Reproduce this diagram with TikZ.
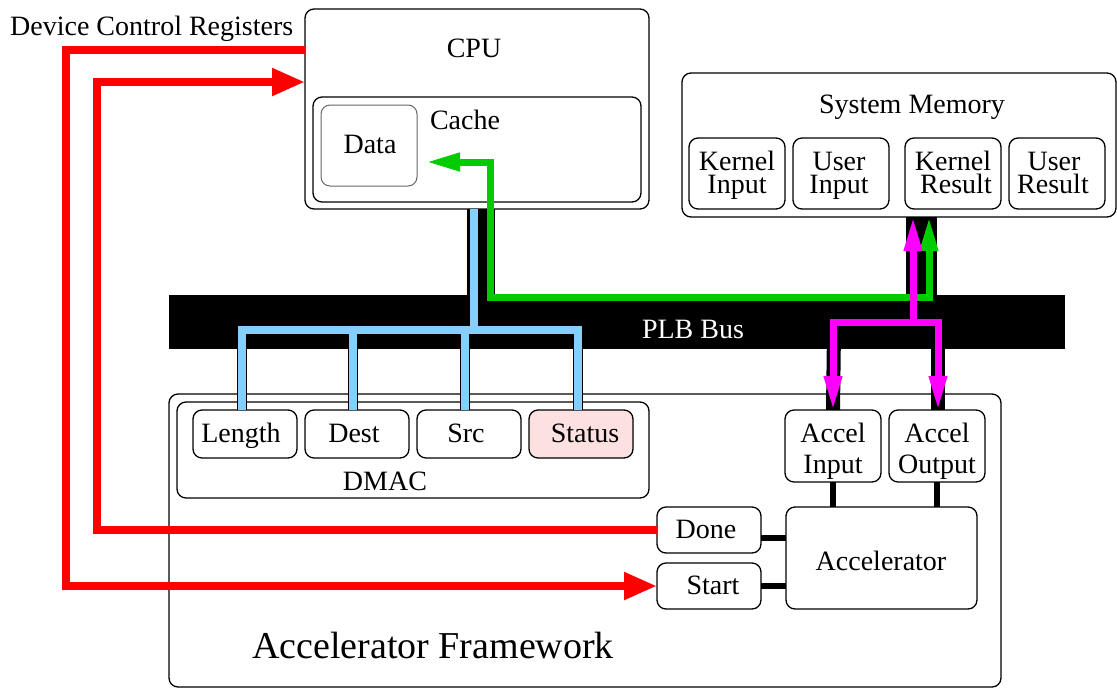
\documentclass[tikz,border=0pt]{standalone}
\usepackage{fontspec}
\setmainfont{Liberation Serif}
\usetikzlibrary{arrows.meta}
\definecolor{busblue}{RGB}{135,206,250}
\definecolor{busgreen}{RGB}{0,204,0}
\definecolor{busmag}{RGB}{255,0,255}
\definecolor{sigred}{RGB}{255,0,0}
\definecolor{statpink}{RGB}{253,225,225}
\tikzset{
  RedHead/.tip={Triangle[length=33pt,width=26pt]},
  BusHead/.tip={Triangle[length=34pt,width=17pt]},
}
\begin{document}
\begin{tikzpicture}[x=1pt,y=-1pt,
  box/.style={draw, line width=1.3pt, rounded corners=9pt, inner sep=0pt, outer sep=0pt, fill=white},
  lbl/.style={inner sep=0pt, anchor=base, font=\fontsize{28}{30}\selectfont},
  biglbl/.style={inner sep=0pt, anchor=base, font=\fontsize{38}{40}\selectfont},
  redline/.style={draw=sigred, line width=8pt},
  blueline/.style={draw=busblue, line width=8pt},
  greenline/.style={draw=busgreen, line width=7pt},
  magline/.style={draw=busmag, line width=7pt},
  underlay/.style={draw=black, line width=10pt},
  wideunder/.style={draw=black, line width=14pt},
  wire/.style={draw=black, line width=6pt},
]
\useasboundingbox (0,0) rectangle (1117,689);

% ---------- CPU ----------
\node[box, minimum width=344pt, minimum height=200pt] (cpu) at (477,109) {};
\node[box, minimum width=328pt, minimum height=105pt] (cache) at (477,149.5) {};
\node[box, draw=black!60, line width=1pt, minimum width=96pt, minimum height=81pt] (data) at (369,145.5) {};
\node[lbl] (cpulbl) at (474,57) {CPU};
\node[lbl] (cachelbl) at (465,129) {Cache};
\node[lbl] (datalbl) at (370,153) {Data};

% ---------- System memory ----------
\node[box, minimum width=434pt, minimum height=144pt] (sysmem) at (899,145) {};
\node[lbl] (sysmemlbl) at (912,113) {System Memory};
\node[box, minimum width=96pt, minimum height=71pt] (kin) at (737,173.5) {};
\node[box, minimum width=96pt, minimum height=71pt] (uin) at (841,173.5) {};
\node[box, minimum width=96pt, minimum height=71pt] (kres) at (953,173.5) {};
\node[box, minimum width=96pt, minimum height=71pt] (ures) at (1057,173.5) {};
\node[lbl] (kinA) at (737,170) {Kernel};
\node[lbl] (kinB) at (737,193) {Input};
\node[lbl] (uinA) at (839,170) {User};
\node[lbl] (uinB) at (839,193) {Input};
\node[lbl] (kresA) at (953,170) {Kernel};
\node[lbl] (kresB) at (956,193) {Result};
\node[lbl] (uresA) at (1054,170) {User};
\node[lbl] (uresB) at (1053,193) {Result};

% ---------- PLB bus ----------
\node[fill=black, inner sep=0pt, outer sep=0pt, minimum width=896pt, minimum height=54pt] (bus) at (617,322) {};
\node[lbl, text=white] (buslbl) at (693,338) {PLB Bus};

% ---------- Accelerator framework ----------
\node[box, minimum width=832pt, minimum height=293pt] (frame) at (585,540.5) {};
\node[biglbl] (framelbl) at (433,658) {Accelerator Framework};
\node[box, minimum width=472pt, minimum height=96pt] (dmac) at (413,450) {};
\node[lbl] (dmaclbl) at (385,490) {DMAC};
\node[box, minimum width=104pt, minimum height=48pt] (len) at (245,434) {};
\node[box, minimum width=104pt, minimum height=48pt] (dest) at (357,434) {};
\node[box, minimum width=104pt, minimum height=48pt] (src) at (469,434) {};
\node[box, fill=statpink, minimum width=104pt, minimum height=48pt] (status) at (581,434) {};
\node[lbl] (lenlbl) at (241,442) {Length};
\node[lbl] (destlbl) at (354,442) {Dest};
\node[lbl] (srclbl) at (466,442) {Src};
\node[lbl] (statuslbl) at (585,442) {Status};

\node[box, minimum width=96pt, minimum height=72pt] (ain) at (833,446) {};
\node[box, minimum width=96pt, minimum height=72pt] (aout) at (937,446) {};
\node[lbl] (ainA) at (833,442) {Accel};
\node[lbl] (ainB) at (833,473) {Input};
\node[lbl] (aoutA) at (937,442) {Accel};
\node[lbl] (aoutB) at (937,473) {Output};

\node[box, minimum width=191pt, minimum height=102pt] (accel) at (881.5,558) {};
\node[lbl] (accellbl) at (881,570) {Accelerator};
\node[box, minimum width=104pt, minimum height=46pt] (done) at (709,530) {};
\node[box, minimum width=104pt, minimum height=46pt] (start) at (709,586) {};
\node[lbl] (donelbl) at (706,538) {Done};
\node[lbl] (startlbl) at (713,594) {Start};

% accelerator wiring
\draw[wire] (ain.south) -- (ain.south |- accel.north);
\draw[wire] (aout.south) -- (aout.south |- accel.north);
\draw[wire] ([yshift=-8pt]done.east) -- ([yshift=-8pt]done.east -| accel.west);
\draw[wire] (start.east) -- (start.east -| accel.west);

% ---------- bus taps ----------
\fill (467,209) rectangle (495,296);
\fill (906,217) rectangle (937,296);
\foreach \xx in {242,353,465,578} \draw[underlay] (\xx,330) -- (\xx,410);
\draw[wideunder] (834,330) -- (ain.north);
\draw[wideunder] (938,330) -- (938,410);

% DMAC register bus (blue)
\draw[blueline] (cpu.south -| 474,0) -- (474,330);
\draw[blueline] ([xshift=-3pt]len.north) -- (242,330) -- (578,330) -- ([xshift=-3pt]status.north);
\draw[blueline] ([xshift=-4pt]dest.north) -- (353,330);
\draw[blueline] ([xshift=-4pt]src.north) -- (465,330);

% result path into the cache (green)
\coordinate (gtip) at (426,162);
\draw[greenline, BusHead-BusHead] (gtip) -- (490,162) -- (490,297) -- (929,297) -- ([xshift=30pt]sysmem.south);

% accelerator data paths (magenta)
\draw[magline, -BusHead] (913,322) -- ([xshift=14pt]sysmem.south);
\draw[magline, BusHead-BusHead] (ain.north) -- (833,322) -- (938,322) -- ([xshift=1pt]aout.north);

% ---------- device control registers (red) ----------
\node[lbl, anchor=base west] (dcrlbl) at (10,35) {Device Control Registers};
\draw[redline, -RedHead] (cpu.west |- 0,50) -- (66,50) -- (66,586) -- (start.west);
\draw[redline, -RedHead] (done.west) -- (97,530) -- (97,82) -- (cpu.west |- 0,82);
\end{tikzpicture}
\end{document}
